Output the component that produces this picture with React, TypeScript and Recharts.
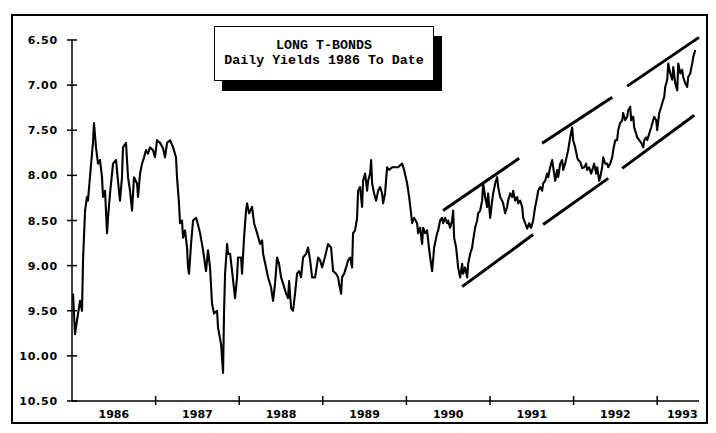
import React from 'react';
import { LineChart, Line, XAxis, YAxis, ReferenceLine } from 'recharts';

// daily long bond yield (year fraction, percent)
const dates = [
  1986.012, 1986.036, 1986.06, 1986.096, 1986.12, 1986.132, 1986.156, 1986.179, 1986.191, 1986.215,
  1986.239, 1986.251, 1986.263, 1986.287, 1986.311, 1986.335, 1986.359, 1986.371, 1986.395, 1986.419,
  1986.431, 1986.455, 1986.479, 1986.491, 1986.527, 1986.55, 1986.574, 1986.598, 1986.61, 1986.646,
  1986.67, 1986.694, 1986.718, 1986.742, 1986.778, 1986.79, 1986.814, 1986.838, 1986.862, 1986.885,
  1986.909, 1986.933, 1986.969, 1986.993, 1987.017, 1987.053, 1987.089, 1987.113, 1987.137, 1987.173,
  1987.209, 1987.244, 1987.256, 1987.28, 1987.292, 1987.316, 1987.328, 1987.352, 1987.376, 1987.388,
  1987.4, 1987.424, 1987.448, 1987.484, 1987.508, 1987.532, 1987.568, 1987.603, 1987.627, 1987.651,
  1987.675, 1987.699, 1987.735, 1987.747, 1987.783, 1987.807, 1987.819, 1987.831, 1987.855, 1987.867,
  1987.891, 1987.915, 1987.95, 1987.974, 1987.986, 1988.022, 1988.034, 1988.058, 1988.082, 1988.094,
  1988.118, 1988.154, 1988.178, 1988.214, 1988.25, 1988.274, 1988.286, 1988.321, 1988.345, 1988.381,
  1988.405, 1988.429, 1988.453, 1988.477, 1988.501, 1988.525, 1988.561, 1988.585, 1988.597, 1988.621,
  1988.644, 1988.668, 1988.692, 1988.716, 1988.74, 1988.764, 1988.8, 1988.824, 1988.848, 1988.872,
  1988.908, 1988.944, 1988.968, 1988.992, 1989.027, 1989.063, 1989.099, 1989.123, 1989.159, 1989.183,
  1989.195, 1989.219, 1989.231, 1989.255, 1989.279, 1989.303, 1989.327, 1989.35, 1989.362, 1989.386,
  1989.41, 1989.422, 1989.446, 1989.47, 1989.482, 1989.506, 1989.53, 1989.542, 1989.566, 1989.578,
  1989.59, 1989.614, 1989.638, 1989.662, 1989.686, 1989.709, 1989.721, 1989.745, 1989.769, 1989.793,
  1989.829, 1989.865, 1989.901, 1989.949, 1989.973, 1990.009, 1990.033, 1990.056, 1990.068, 1990.092,
  1990.128, 1990.14, 1990.164, 1990.188, 1990.2, 1990.224, 1990.248, 1990.26, 1990.284, 1990.308,
  1990.332, 1990.368, 1990.38, 1990.403, 1990.427, 1990.439, 1990.463, 1990.487, 1990.499, 1990.523,
  1990.547, 1990.559, 1990.571, 1990.595, 1990.619, 1990.643, 1990.667, 1990.679, 1990.703, 1990.727,
  1990.739, 1990.763, 1990.786, 1990.798, 1990.822, 1990.846, 1990.858, 1990.882, 1990.906, 1990.918,
  1990.942, 1990.966, 1990.978, 1991.002, 1991.026, 1991.038, 1991.062, 1991.086, 1991.098, 1991.122,
  1991.145, 1991.157, 1991.181, 1991.205, 1991.217, 1991.241, 1991.265, 1991.277, 1991.301, 1991.325,
  1991.337, 1991.361, 1991.385, 1991.397, 1991.421, 1991.445, 1991.469, 1991.492, 1991.516, 1991.54,
  1991.564, 1991.576, 1991.6, 1991.624, 1991.636, 1991.66, 1991.684, 1991.696, 1991.72, 1991.744,
  1991.756, 1991.78, 1991.804, 1991.816, 1991.839, 1991.863, 1991.875, 1991.899, 1991.935, 1991.959,
  1991.983, 1991.995, 1992.019, 1992.043, 1992.055, 1992.079, 1992.103, 1992.127, 1992.15, 1992.162,
  1992.186, 1992.21, 1992.234, 1992.246, 1992.27, 1992.282, 1992.306, 1992.318, 1992.342, 1992.354,
  1992.378, 1992.402, 1992.414, 1992.438, 1992.462, 1992.474, 1992.498, 1992.521, 1992.533, 1992.557,
  1992.581, 1992.593, 1992.617, 1992.641, 1992.653, 1992.677, 1992.689, 1992.713, 1992.725, 1992.749,
  1992.761, 1992.785, 1992.809, 1992.833, 1992.845, 1992.869, 1992.881, 1992.904, 1992.928, 1992.952,
  1992.964, 1992.988, 1993.0, 1993.024, 1993.048, 1993.06, 1993.084, 1993.096, 1993.12, 1993.132,
  1993.156, 1993.18, 1993.192, 1993.216, 1993.24, 1993.252, 1993.276, 1993.299, 1993.311, 1993.335,
  1993.359, 1993.371, 1993.395, 1993.419, 1993.431, 1993.455,
];

const yields = [
  9.31, 9.76, 9.61, 9.39, 9.5, 8.94, 8.39, 8.24, 8.28, 8.02,
  7.76, 7.64, 7.42, 7.69, 7.87, 7.83, 8.02, 8.24, 8.17, 8.64,
  8.47, 8.2, 7.98, 7.87, 7.83, 8.06, 8.28, 8.02, 7.69, 7.64,
  8.02, 8.17, 8.39, 8.02, 8.09, 8.24, 7.98, 7.87, 7.8, 7.72,
  7.76, 7.69, 7.72, 7.8, 7.61, 7.64, 7.7, 7.8, 7.64, 7.61,
  7.69, 7.8, 8.02, 8.31, 8.53, 8.5, 8.69, 8.61, 8.8, 9.02,
  9.09, 8.76, 8.5, 8.47, 8.55, 8.64, 8.83, 9.06, 8.83, 9.02,
  9.42, 9.53, 9.5, 9.69, 9.87, 10.19, 9.5, 9.09, 8.76, 8.87,
  8.87, 9.06, 9.36, 9.13, 8.91, 8.91, 9.09, 8.69, 8.39, 8.31,
  8.42, 8.35, 8.53, 8.64, 8.76, 8.72, 8.87, 9.02, 9.13, 9.24,
  9.39, 9.2, 8.91, 8.98, 9.13, 9.2, 9.31, 9.36, 9.17, 9.47,
  9.5, 9.31, 9.09, 9.06, 9.13, 8.91, 8.87, 8.8, 8.94, 9.13,
  9.13, 8.91, 8.94, 9.02, 8.9, 8.76, 8.8, 9.06, 9.09, 9.13,
  9.2, 9.31, 9.13, 9.09, 9.02, 8.94, 8.91, 9.02, 8.64, 8.61,
  8.47, 8.17, 8.13, 8.35, 8.06, 7.98, 8.17, 8.06, 7.98, 7.83,
  8.09, 8.2, 8.28, 8.17, 8.13, 8.2, 8.31, 8.2, 7.91, 7.94,
  7.91, 7.91, 7.91, 7.87, 7.94, 8.09, 8.24, 8.42, 8.53, 8.47,
  8.53, 8.64, 8.58, 8.76, 8.58, 8.64, 8.61, 8.72, 8.91, 9.06,
  8.8, 8.64, 8.61, 8.5, 8.47, 8.53, 8.47, 8.53, 8.5, 8.58,
  8.5, 8.39, 8.69, 8.8, 9.02, 9.13, 8.98, 9.09, 9.02, 9.13,
  8.98, 8.87, 8.8, 8.72, 8.58, 8.5, 8.42, 8.39, 8.28, 8.09,
  8.24, 8.35, 8.2, 8.47, 8.28, 8.2, 8.09, 8.02, 8.13, 8.24,
  8.28, 8.31, 8.42, 8.35, 8.28, 8.2, 8.24, 8.17, 8.28, 8.24,
  8.31, 8.28, 8.35, 8.47, 8.53, 8.59, 8.53, 8.58, 8.5, 8.35,
  8.24, 8.17, 8.13, 8.17, 8.09, 8.06, 7.98, 8.02, 7.91, 7.83,
  7.91, 8.06, 7.94, 8.02, 7.87, 7.83, 7.94, 7.87, 7.72, 7.58,
  7.47, 7.61, 7.69, 7.8, 7.83, 7.85, 7.92, 7.91, 7.87, 7.94,
  7.91, 7.98, 7.91, 7.87, 7.98, 7.91, 8.06, 8.02, 7.91, 7.8,
  7.87, 7.87, 7.91, 7.87, 7.8, 7.72, 7.61, 7.61, 7.5, 7.42,
  7.39, 7.31, 7.39, 7.35, 7.28, 7.24, 7.39, 7.35, 7.47, 7.54,
  7.58, 7.61, 7.64, 7.69, 7.61, 7.58, 7.61, 7.54, 7.47, 7.39,
  7.35, 7.39, 7.5, 7.31, 7.24, 7.2, 7.13, 7.02, 6.94, 6.76,
  6.87, 6.94, 6.8, 6.98, 7.06, 6.76, 6.87, 6.83, 6.91, 6.98,
  7.02, 6.91, 6.87, 6.76, 6.69, 6.61,
];

const yieldTicks = [6.5, 7, 7.5, 8, 8.5, 9, 9.5, 10, 10.5];
const yearBreaks = [1987, 1988, 1989, 1990, 1991, 1992, 1993];
const yearLabels = ['1986', '1987', '1988', '1989', '1990', '1991', '1992', '1993'];
const yearLabelAt = [1986.5, 1987.5, 1988.5, 1989.5, 1990.5, 1991.5, 1992.5, 1993.3];

// hand-drawn channel: [x1, y1, x2, y2] in year / yield
const upperChannel = [
  [1990.439, 8.389, 1991.349, 7.811],
  [1991.624, 7.644, 1992.462, 7.133],
  [1992.641, 7.011, 1993.5, 6.471],
];
const lowerChannel = [
  [1990.667, 9.233, 1991.516, 8.656],
  [1991.636, 8.544, 1992.414, 8.033],
  [1992.581, 7.922, 1993.443, 7.333],
];

const data = dates.map((t, i) => ({ t, y: yields[i] }));
const xTicks = [...yearBreaks, ...yearLabelAt].sort((a, b) => a - b);

const labelFont = { fontFamily: '"DejaVu Sans", sans-serif', fontWeight: 700, fontSize: 11 };

function YieldTick({ x, y, payload }: any) {
  return (
    <g>
      <line x1={x - 5} x2={x + 5} y1={y} y2={y} stroke="#000" strokeWidth={1.5} />
      <text x={x - 14} y={y} dy={4} textAnchor="end" fill="#000" letterSpacing={0.8} {...labelFont}>
        {payload.value.toFixed(2)}
      </text>
    </g>
  );
}

function YearTick({ x, y, payload }: any) {
  const v = payload.value;
  if (yearBreaks.includes(v)) {
    return <line x1={x} x2={x} y1={y - 5} y2={y + 4} stroke="#000" strokeWidth={1.5} />;
  }
  const i = yearLabelAt.indexOf(v);
  return (
    <text x={x} y={y + 17} textAnchor="middle" fill="#000" {...labelFont}>
      {yearLabels[i]}
    </text>
  );
}

export default function App() {
  return (
    <div style={{ position: 'absolute', left: 0, top: 0, width: 716, height: 433, background: '#fff' }}>
      <LineChart width={716} height={433} data={data} margin={{ top: 40, right: 17, bottom: 0, left: 0 }}>
        <XAxis
          dataKey="t"
          type="number"
          domain={[1986, 1993.5]}
          ticks={xTicks}
          interval={0}
          tick={<YearTick />}
          tickSize={0}
          tickMargin={0}
          height={32}
          axisLine={{ stroke: '#000', strokeWidth: 1.5 }}
          tickLine={false}
        />
        <YAxis
          type="number"
          domain={[6.5, 10.5]}
          reversed
          ticks={yieldTicks}
          interval={0}
          tick={<YieldTick />}
          tickSize={0}
          tickMargin={0}
          width={72}
          axisLine={{ stroke: '#000', strokeWidth: 1.5 }}
          tickLine={false}
        />
        <Line
          dataKey="y"
          type="linear"
          stroke="#000"
          strokeWidth={2.1}
          strokeLinejoin="round"
          dot={false}
          isAnimationActive={false}
        />
        {[...upperChannel, ...lowerChannel].map((s, i) => (
          <ReferenceLine
            key={i}
            segment={[{ x: s[0], y: s[1] }, { x: s[2], y: s[3] }]}
            stroke="#000"
            strokeWidth={3}
            ifOverflow="visible"
          />
        ))}
      </LineChart>
      <div
        style={{
          position: 'absolute', left: 11, top: 14, width: 697, height: 410,
          border: '2px solid #000', boxSizing: 'border-box', pointerEvents: 'none',
        }}
      />
      <div
        style={{
          position: 'absolute', left: 214, top: 26, width: 220, height: 55,
          border: '1px solid #000', background: '#fff', boxShadow: '8px 10px 0 #000',
          boxSizing: 'border-box', paddingTop: 11, textAlign: 'center',
          fontFamily: '"Liberation Mono", monospace', fontWeight: 700, fontSize: 13.3,
          lineHeight: '15px', color: '#000',
        }}
      >
        <div>LONG T-BONDS</div>
        <div>Daily Yields 1986 To Date</div>
      </div>
    </div>
  );
}
